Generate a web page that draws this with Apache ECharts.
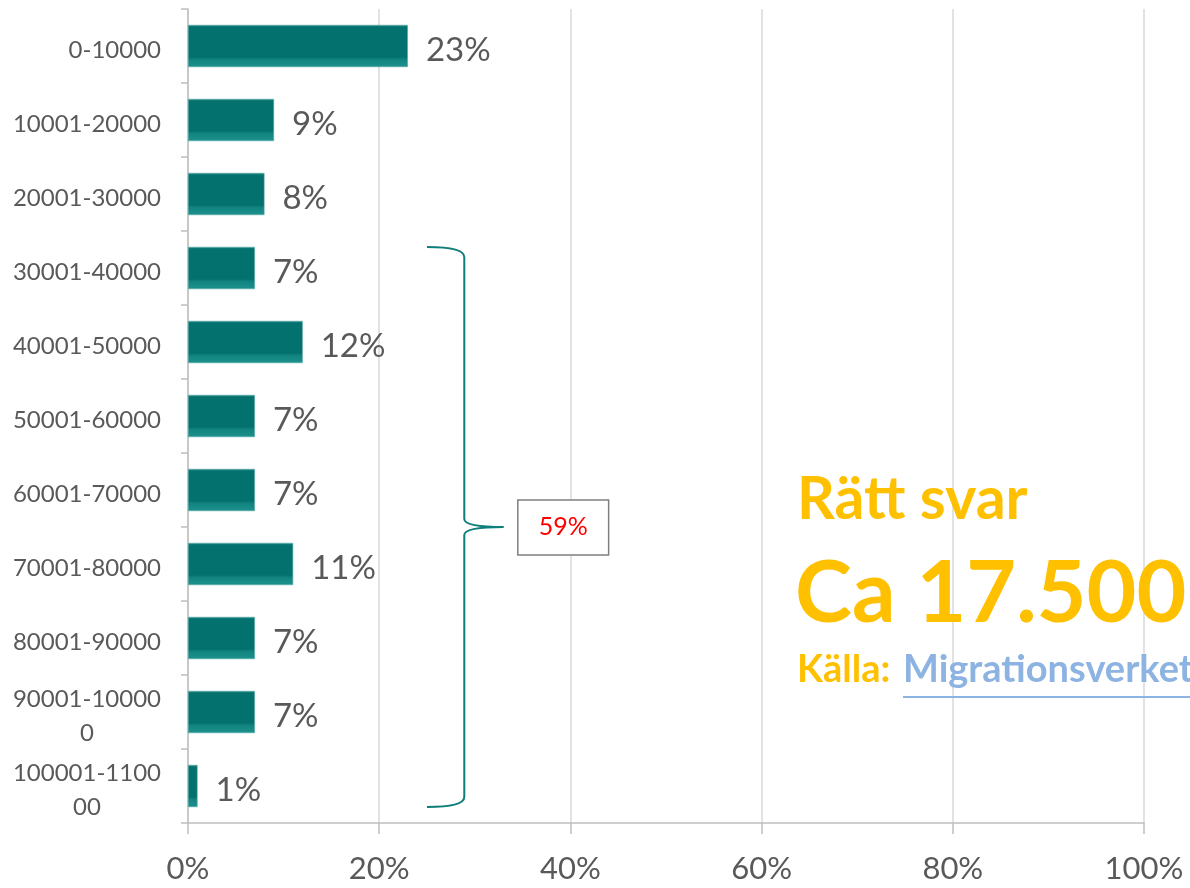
<!DOCTYPE html>
<html>
<head>
<meta charset="utf-8">
<script src="https://cdn.jsdelivr.net/npm/echarts@6/dist/echarts.min.js"></script>
<style>
  html, body { margin: 0; padding: 0; background: #fff; }
  #chart { width: 1190px; height: 888px; }
</style>
</head>
<body>
<div id="chart"></div>
<script>
// income brackets (SEK) and share of answers
const categories = [
  '0-10000', '10001-20000', '20001-30000', '30001-40000', '40001-50000',
  '50001-60000', '60001-70000', '70001-80000', '80001-90000', '90001-100000',
  '100001-110000'
];
const shares = [23, 9, 8, 7, 12, 7, 7, 11, 7, 7, 1];
const xTicks = [0, 20, 40, 60, 80, 100];

// bracket: from 30001-40000 down to 100001-110000
const bracketFrom = 3;
const bracketTo = 10;
const bracketLabel = '59%';

const answerTitle = 'Rätt svar';
const answerValue = 'Ca 17.500';
const sourceLabel = 'Källa: ';
const sourceName = 'Migrationsverket';

const FONT = 'Lato, "Open Sans", sans-serif';
const GREY = '#595959';
const GOLD = '#FFC000';
const TEAL = '#03716e';

const chart = echarts.init(document.getElementById('chart'));

const barColor = new echarts.graphic.LinearGradient(0, 0, 0, 1, [
  { offset: 0, color: '#2a8e8b' },
  { offset: 0.05, color: TEAL },
  { offset: 0.76, color: TEAL },
  { offset: 0.82, color: '#12847f' },
  { offset: 1, color: '#1c918d' }
]);

chart.setOption({
  animation: false,
  grid: { left: 188, right: 46, top: 9, bottom: 65 },
  xAxis: {
    type: 'value',
    min: xTicks[0],
    max: xTicks[xTicks.length - 1],
    interval: 20,
    axisLine: { show: true, lineStyle: { color: '#bfbfbf', width: 1.5 } },
    axisTick: { show: true, length: 11, lineStyle: { color: '#bfbfbf', width: 1.5 } },
    splitLine: { show: true, lineStyle: { color: '#d9d9d9', width: 1.5 } },
    axisLabel: {
      formatter: '{value}%',
      color: GREY,
      fontFamily: FONT,
      fontSize: 31,
      margin: 30
    }
  },
  yAxis: {
    type: 'category',
    inverse: true,
    data: categories,
    axisLine: { show: true, lineStyle: { color: '#bfbfbf', width: 1.5 } },
    axisTick: { show: true, length: 7, lineStyle: { color: '#bfbfbf', width: 1.5 } },
    axisLabel: {
      interval: 0,
      hideOverlap: false,
      color: GREY,
      fontFamily: FONT,
      fontSize: 24,
      margin: 27,
      lineHeight: 34,
      align: 'right',
      padding: [8, 0, 0, 0],
      // the original wraps long labels after 11 characters, tail centred
      formatter: function (v) {
        return v.length > 11 ? v.slice(0, 11) + '\n{tail|' + v.slice(11) + '}' : v;
      },
      rich: {
        tail: { align: 'center', color: GREY, fontFamily: FONT, fontSize: 24, lineHeight: 34 }
      }
    }
  },
  series: [{
    type: 'bar',
    data: shares,
    barWidth: '57%',
    itemStyle: { color: barColor, borderColor: '#5aa9a6', borderWidth: 0.6 },
    label: {
      show: true,
      position: 'right',
      distance: 18,
      offset: [0, 4],
      formatter: '{c}%',
      color: GREY,
      fontFamily: FONT,
      fontSize: 33
    }
  }]
});

// bracket and text annotations, placed from the axes
function px(value, catIndex) {
  return chart.convertToPixel({ gridIndex: 0 }, [value, categories[catIndex]]);
}
const band = px(0, 1)[1] - px(0, 0)[1];
const half = band * 0.57 / 2;
const yTop = px(0, bracketFrom)[1] - half;
const yBot = px(0, bracketTo)[1] + half;
const yMid = (yTop + yBot) / 2;
const x0 = px(25, 0)[0];
const x1 = px(28.9, 0)[0];
const x2 = px(33, 0)[0];
const bx0 = px(34.5, 0)[0];
const bx1 = px(44, 0)[0];

const braceStyle = { fill: null, stroke: '#0e7e7b', lineWidth: 2 };
function curve(ax, ay, cx, cy, bx, by) {
  return {
    type: 'bezierCurve',
    shape: { x1: ax, y1: ay, x2: bx, y2: by, cpx1: cx, cpy1: cy },
    style: braceStyle
  };
}
function seg(ax, ay, bx, by) {
  return { type: 'line', shape: { x1: ax, y1: ay, x2: bx, y2: by }, style: braceStyle };
}

chart.setOption({
  graphic: [
    curve(x0, yTop, x1, yTop, x1, yTop + 10),
    seg(x1, yTop + 10, x1, yMid - 8),
    curve(x1, yMid - 8, x1, yMid, x2, yMid),
    curve(x2, yMid, x1, yMid, x1, yMid + 8),
    seg(x1, yMid + 8, x1, yBot - 10),
    curve(x1, yBot - 10, x1, yBot, x0, yBot),
    {
      type: 'rect',
      shape: { x: bx0, y: yMid - 27, width: bx1 - bx0, height: 55 },
      style: { fill: '#fff', stroke: '#7f7f7f', lineWidth: 1.5 }
    },
    {
      type: 'text',
      x: (bx0 + bx1) / 2,
      y: yMid,
      style: {
        text: bracketLabel, fill: '#ff0000', fontFamily: FONT, fontSize: 25,
        align: 'center', verticalAlign: 'middle'
      }
    },
    {
      type: 'text',
      x: 797, y: 470,
      style: { text: answerTitle, fill: GOLD, fontFamily: FONT, fontWeight: 'bold', fontSize: 59 }
    },
    {
      type: 'text',
      x: 795, y: 551,
      style: { text: answerValue, fill: GOLD, fontFamily: FONT, fontWeight: 'bold', fontSize: 86 }
    },
    {
      type: 'text',
      x: 797, y: 651,
      style: { text: sourceLabel, fill: GOLD, fontFamily: FONT, fontWeight: 'bold', fontSize: 38 }
    },
    {
      type: 'text',
      x: 903, y: 651,
      style: { text: sourceName, fill: '#8db3e2', fontFamily: FONT, fontWeight: 'bold', fontSize: 38 }
    },
    {
      type: 'rect',
      shape: { x: 903, y: 696, width: 300, height: 2 },
      style: { fill: '#8db3e2' }
    }
  ]
});

window.addEventListener('resize', () => chart.resize());
</script>
</body>
</html>
